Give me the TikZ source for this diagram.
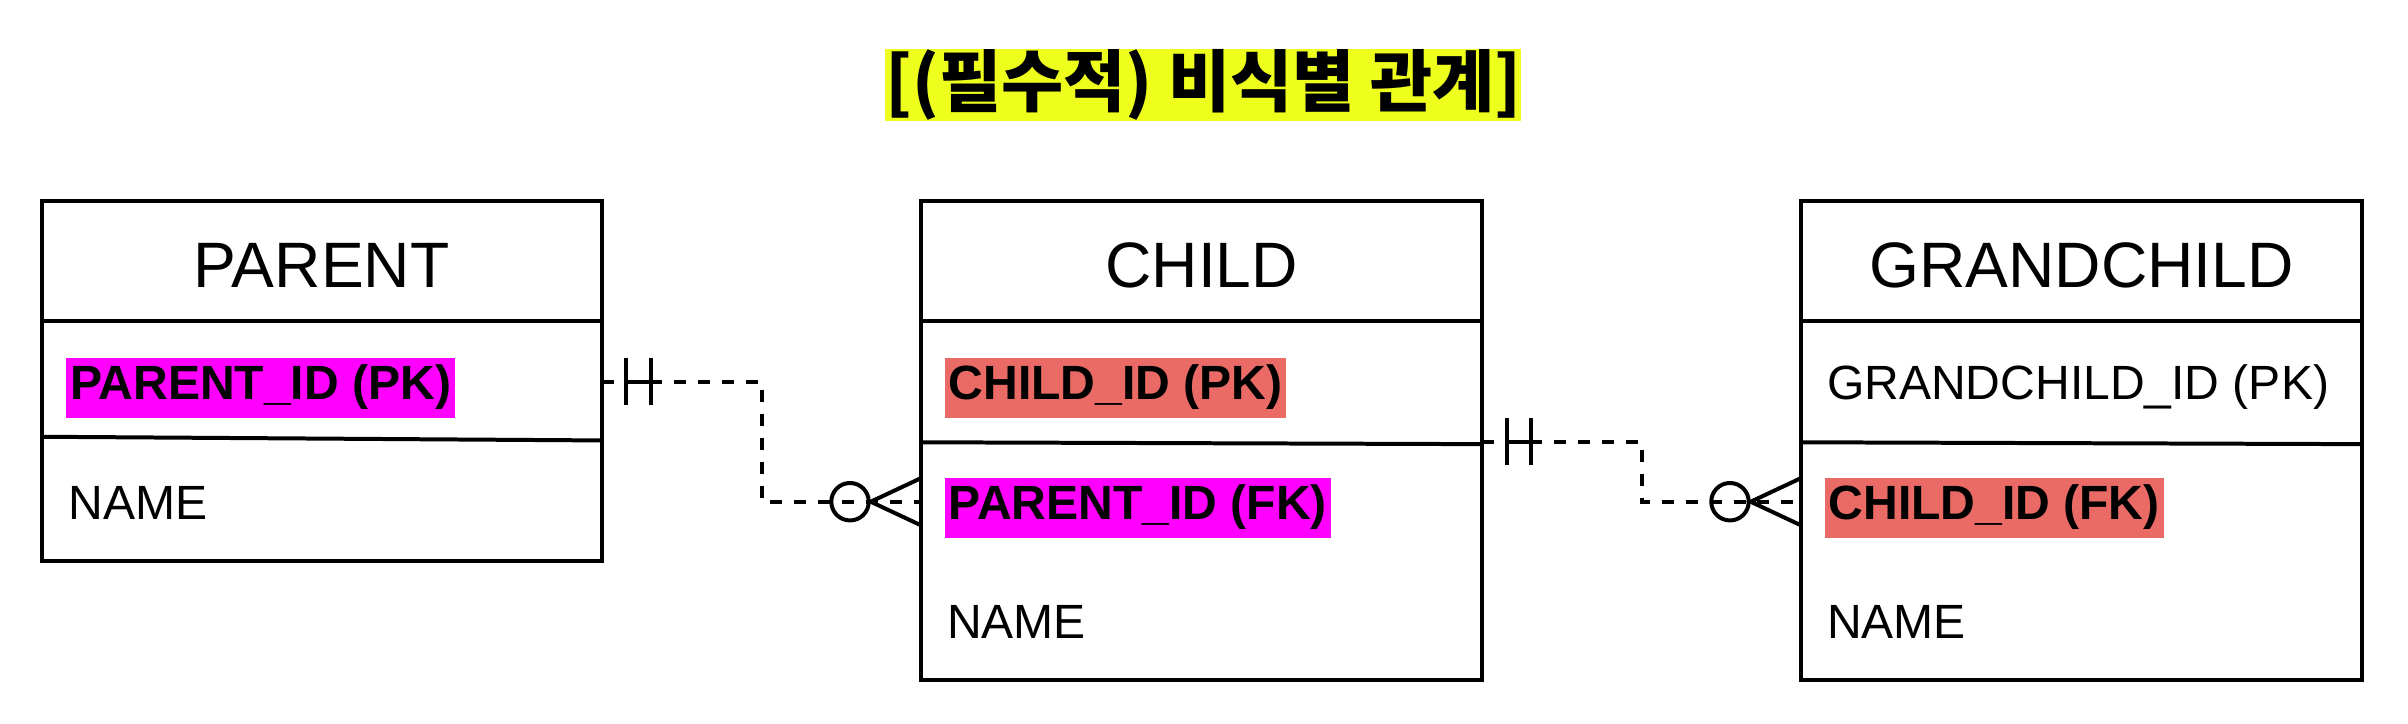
\documentclass[tikz,border=0pt]{standalone}
\usepackage{fontspec}
\setmainfont{Liberation Sans}
\newfontfamily\krfont{Noto Sans CJK KR}
\usetikzlibrary{calc}
\definecolor{hlmag}{HTML}{FF00FF}
\definecolor{hlred}{HTML}{EA6B66}
\definecolor{hlyel}{HTML}{EEFF1E}
\begin{document}
\begin{tikzpicture}[x=1pt,y=-1pt,
  tbl/.style={draw=black, line width=2.6pt, anchor=north west, inner sep=0pt, outer sep=0pt, minimum width=365pt},
  sepline/.style={line width=2.6pt},
  fld/.style={anchor=base west, inner xsep=1.5pt, inner ysep=2.5pt, text height=24.5pt, text depth=9.5pt, font=\fontsize{31.3}{37}\selectfont},
  keyfld/.style={fld, inner xsep=2.5pt, font=\fontsize{31.3}{37}\selectfont\bfseries},
  hdr/.style={anchor=base, inner sep=0pt, font=\fontsize{41.8}{50}\selectfont},
  conn/.style={line width=2.6pt, dash pattern=on 7.8pt off 7.8pt},
  erline/.style={line width=2.6pt},
  ttl/.style={fill=hlyel, inner sep=0pt, minimum width=411pt, minimum height=47pt, font=\krfont\bfseries\fontsize{44}{52}\selectfont}
]
\useasboundingbox (0,0) rectangle (1568,471.4);

% title
\node[ttl] (title) at (783.5,55.5) {[(필수적) 비식별 관계]};

% tables
\node[tbl, minimum height=234pt] (parent) at (27.3,131) {};
\node[tbl, minimum height=312pt] (child) at (600,131) {};
\node[tbl, minimum height=312pt] (grand) at (1173,131) {};

% header separators
\draw[sepline] (parent.west |- 0,209) -- (parent.east |- 0,209);
\draw[sepline] (child.west |- 0,209) -- (child.east |- 0,209);
\draw[sepline] (grand.west |- 0,209) -- (grand.east |- 0,209);
% key separators
\draw[sepline] (parent.west |- 0,284.4) -- (parent.east |- 0,286.8);
\draw[sepline] (child.west |- 0,288) -- (child.east |- 0,289.2);
\draw[sepline] (grand.west |- 0,288) -- (grand.east |- 0,289.2);

% headers
\node[hdr] (ph) at (209.5,187) {PARENT};
\node[hdr] (ch) at (782.5,187) {CHILD};
\node[hdr] (gh) at (1355.5,187) {GRANDCHILD};

% fields
\node[keyfld, fill=hlmag] (ppk) at (43,260) {PARENT\_ID (PK)};
\node[fld] (pname) at (43,338) {NAME};

\node[keyfld, fill=hlred] (cpk) at (615,260) {CHILD\_ID (PK)};
\node[keyfld, fill=hlmag] (cfk) at (615,338) {PARENT\_ID (FK)};
\node[fld] (cname) at (615,416) {NAME};

\node[fld] (gpk) at (1188,260) {GRANDCHILD\_ID (PK)};
\node[keyfld, fill=hlred] (gfk) at (1188,338) {CHILD\_ID (FK)};
\node[fld] (gname) at (1188,416) {NAME};

% connector 1
\coordinate (c1s) at (parent.east |- 0,248.6);
\coordinate (c1e) at (child.west |- 0,326.7);
\draw[conn] (c1s) -| ($(c1s)!.5!(c1e)$) |- (c1e);
\draw[erline] ($(c1s)+(15.5,-15.3)$) -- ($(c1s)+(15.5,15.3)$);
\draw[erline] ($(c1s)+(31.3,-15.3)$) -- ($(c1s)+(31.3,15.3)$);
\draw[erline] ($(c1s)+(15.5,0)$) -- ($(c1s)+(31.3,0)$);
\draw[erline] ($(c1e)+(-46.5,0)$) circle[radius=12.2pt];
\draw[erline] ($(c1e)+(0,-15.5)$) -- ($(c1e)+(-33,0)$) -- ($(c1e)+(0,15.5)$);

% connector 2
\coordinate (c2s) at (child.east |- 0,287.7);
\coordinate (c2e) at (grand.west |- 0,326.7);
\draw[conn] (c2s) -| ($(c2s)!.5!(c2e)$) |- (c2e);
\draw[erline] ($(c2s)+(16,-15.3)$) -- ($(c2s)+(16,15.3)$);
\draw[erline] ($(c2s)+(31.6,-15.3)$) -- ($(c2s)+(31.6,15.3)$);
\draw[erline] ($(c2s)+(16,0)$) -- ($(c2s)+(31.6,0)$);
\draw[erline] ($(c2e)+(-46.5,0)$) circle[radius=12.2pt];
\draw[erline] ($(c2e)+(0,-15.5)$) -- ($(c2e)+(-33,0)$) -- ($(c2e)+(0,15.5)$);
\end{tikzpicture}
\end{document}
